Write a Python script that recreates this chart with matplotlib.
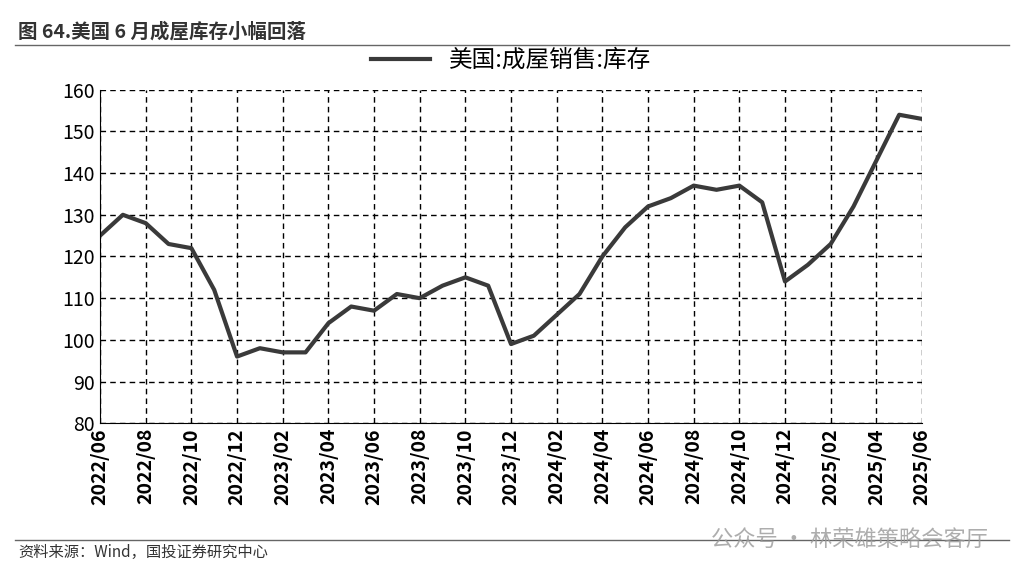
import matplotlib
matplotlib.use("Agg")
import matplotlib.pyplot as plt
import numpy as np

plt.rcParams["font.family"] = ["Noto Sans CJK SC"]

months = ["2022/06","2022/07","2022/08","2022/09","2022/10","2022/11","2022/12",
          "2023/01","2023/02","2023/03","2023/04","2023/05","2023/06","2023/07","2023/08",
          "2023/09","2023/10","2023/11","2023/12","2024/01","2024/02","2024/03","2024/04",
          "2024/05","2024/06","2024/07","2024/08","2024/09","2024/10","2024/11","2024/12",
          "2025/01","2025/02","2025/03","2025/04","2025/05","2025/06"]
inventory = [125,130,128,123,122,112,96,98,97,97,104,108,107,111,110,113,115,113,99,
             101,106,111,120,127,132,134,137,136,137,133,114,118,123,132,143,154,153]
tick_labels = months[::2]

fig = plt.figure(figsize=(10.24, 5.79), dpi=100)
ax = fig.add_axes([0.0977, 0.269, 0.8027, 0.576])
x = np.arange(len(months))
ax.plot(x, inventory, color="#3a3a3a", lw=3, label="美国:成屋销售:库存")
ax.set_xlim(0, len(months) - 1)
ax.set_ylim(80, 160)
ax.set_yticks(range(80, 161, 10))
ax.set_xticks(x[::2])
ax.set_xticklabels(tick_labels, rotation=90, fontsize=14, fontweight="bold")
ax.tick_params(axis="y", labelsize=14, length=0)
ax.tick_params(axis="x", length=0)
ax.grid(True, color="black", ls=(0, (4, 3)), lw=1)
for s in ["top", "right"]:
    ax.spines[s].set_visible(False)
ax.legend(loc="lower center", bbox_to_anchor=(0.5, 0.99), frameon=False,
          prop={"size": 17, "weight": "medium"}, handlelength=2.5)

fig.text(0.018, 0.945, "图 64.美国 6 月成屋库存小幅回落", fontsize=14, fontweight="bold",
         color="#333333", va="center")
fig.add_artist(plt.Line2D([0.015, 0.985], [0.922, 0.922], color="#666666", lw=1))
fig.add_artist(plt.Line2D([0.015, 0.985], [0.068, 0.068], color="#666666", lw=1))
fig.text(0.018, 0.045, "资料来源：Wind，国投证券研究中心", fontsize=11, style="italic",
         color="#333333", va="center")
fig.text(0.965, 0.068, "公众号 · 林荣雄策略会客厅", fontsize=16, color="#999999",
         ha="right", va="center", alpha=0.8)
fig.savefig("out.png", dpi=100, facecolor="white")
